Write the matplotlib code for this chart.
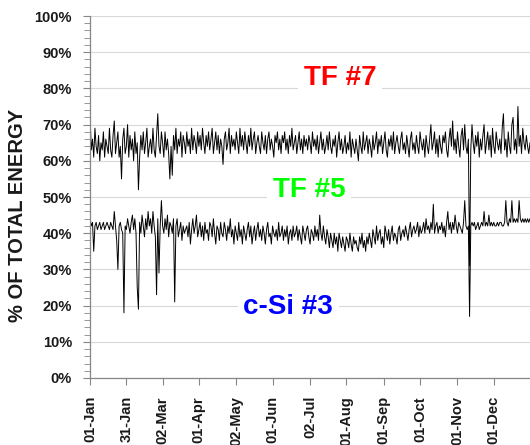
import numpy as np
import matplotlib
matplotlib.use("Agg")
import matplotlib.pyplot as plt
from matplotlib.ticker import MultipleLocator, FuncFormatter

plt.rcParams['font.family'] = ['Liberation Sans', 'DejaVu Sans']

# day of year
days = np.arange(365)

# upper band (%), one value per day
tf7 = [72, 63, 66, 61, 69, 64, 62, 67, 60, 65,
       63, 68, 61, 66, 64, 62, 69, 63, 61, 67,
       71, 62, 65, 68, 61, 64, 55, 66, 69, 62,
       64, 70, 61, 67, 63, 66, 60, 68, 62, 65,
       52, 61, 67, 63, 68, 62, 65, 69, 61, 64,
       66, 62, 69, 63, 61, 67, 73, 64, 62, 68,
       65, 61, 68, 63, 66, 62, 55, 64, 56, 67,
       63, 69, 62, 66, 64, 68, 61, 67, 65, 62,
       68, 64, 66, 62, 69, 63, 67, 65, 62, 68,
       64, 67, 63, 69, 65, 62, 67, 64, 68, 63,
       66, 69, 62, 65, 68, 63, 67, 62, 66, 64,
       59, 66, 68, 63, 65, 69, 62, 67, 64, 66,
       63, 68, 65, 62, 69, 64, 67, 63, 68, 65,
       62, 67, 64, 69, 63, 66, 68, 62, 65, 67,
       64, 62, 68, 65, 63, 67, 62, 66, 68, 63,
       66, 64, 61, 67, 65, 68, 63, 66, 62, 67,
       65, 68, 63, 66, 62, 67, 64, 69, 63, 65,
       67, 62, 65, 68, 63, 66, 62, 67, 64, 66,
       63, 67, 65, 62, 68, 64, 66, 63, 67, 62,
       65, 68, 63, 66, 62, 64, 67, 63, 68, 64,
       62, 66, 64, 67, 61, 65, 68, 63, 66, 62,
       64, 67, 62, 65, 63, 68, 61, 66, 64, 62,
       66, 63, 60, 67, 64, 62, 68, 63, 65, 67,
       62, 66, 64, 61, 67, 63, 65, 68, 62, 66,
       64, 67, 62, 65, 68, 63, 61, 66, 64, 67,
       63, 68, 62, 65, 67, 64, 62, 66, 68, 63,
       65, 62, 67, 64, 61, 66, 68, 63, 65, 62,
       67, 64, 62, 68, 65, 63, 66, 61, 67, 64,
       62, 66, 70, 63, 65, 68, 62, 66, 61, 67,
       64, 62, 67, 65, 68, 63, 61, 66, 69, 64,
       71, 63, 66, 62, 68, 64, 61, 67, 69, 63,
       70, 64, 62, 66, 31, 63, 70, 65, 62, 67,
       64, 68, 61, 66, 63, 67, 70, 62, 65, 68,
       63, 67, 61, 69, 64, 62, 68, 65, 63, 66,
       62, 69, 73, 63, 66, 61, 68, 64, 62, 70,
       72, 63, 66, 62, 75, 64, 67, 62, 69, 65,
       63, 67, 64, 62, 65]

# lower band (%)
tf5 = [44, 42, 43, 35, 42, 43, 41, 42, 43, 41,
       42, 43, 41, 42, 43, 42, 41, 43, 42, 41,
       46, 42, 38, 30, 42, 43, 41, 40, 18, 42,
       41, 44, 42, 40, 43, 45, 41, 44, 40, 25,
       19, 43, 40, 45, 42, 39, 44, 41, 46, 42,
       44, 40, 46, 42, 39, 23, 44, 29, 42, 49,
       42, 40, 44, 41, 45, 39, 43, 42, 40, 44,
       21, 42, 44, 39, 41, 43, 38, 42, 40, 41,
       42, 39, 43, 37, 41, 44, 40, 42, 45, 39,
       41, 43, 39, 42, 38, 43, 40, 41, 38, 43,
       42, 39, 44, 40, 37, 42, 41, 38, 43, 40,
       39, 43, 41, 38, 42, 40, 44, 39, 41, 37,
       42, 40, 38, 43, 39, 41, 37, 42, 40, 38,
       41, 43, 39, 42, 37, 40, 42, 38, 41, 43,
       39, 41, 38, 42, 40, 37, 41, 43, 39, 40,
       37, 42, 40, 39, 41, 38, 43, 39, 40, 42,
       38, 41, 39, 42, 37, 40, 41, 38, 42, 39,
       40, 42, 38, 41, 39, 37, 42, 40, 38, 41,
       42, 39, 37, 41, 40, 38, 42, 39, 41, 38,
       45, 40, 38, 42, 39, 37, 41, 39, 36, 40,
       38, 36, 40, 37, 39, 35, 40, 38, 36, 39,
       37, 35, 39, 38, 36, 40, 37, 35, 39, 37,
       38, 36, 35, 39, 37, 40, 36, 38, 35, 39,
       37, 40, 38, 36, 41, 39, 37, 42, 38, 40,
       41, 37, 39, 36, 42, 40, 38, 41, 37, 40,
       42, 38, 40, 39, 37, 41, 42, 38, 40, 41,
       39, 42, 40, 38, 41, 43, 39, 41, 42, 40,
       41, 43, 39, 42, 40, 41, 43, 40, 44, 41,
       42, 40, 43, 41, 48, 40, 42, 43, 40, 42,
       41, 43, 40, 42, 39, 43, 46, 41, 43, 40,
       43, 41, 45, 42, 40, 43, 42, 41, 40, 43,
       49, 42, 41, 42, 17, 42, 43, 42, 43, 41,
       42, 43, 41, 42, 43, 42, 46, 42, 43, 42,
       45, 42, 43, 42, 43, 42, 42, 43, 42, 43,
       43, 42, 42, 43, 49, 43, 42, 44, 43, 49,
       43, 44, 43, 44, 43, 49, 44, 43, 44, 43,
       44, 43, 44, 43, 44]

tick_days = [0, 30, 60, 90, 121, 151, 182, 212, 243, 273, 304, 334]
tick_labels = ['01-Jan', '31-Jan', '02-Mar', '01-Apr', '02-May', '01-Jun',
               '02-Jul', '01-Aug', '01-Sep', '01-Oct', '01-Nov', '01-Dec']

fig = plt.figure(figsize=(5.3, 4.45), dpi=100)
ax = fig.add_axes([0.170, 0.1506, 0.830, 0.8134])

ax.plot(days, tf7, color='black', lw=0.7)
ax.plot(days, tf5, color='black', lw=0.7)

ax.set_xlim(0, 364)
ax.set_ylim(0, 100)

ax.yaxis.set_major_locator(MultipleLocator(10))
ax.yaxis.set_minor_locator(MultipleLocator(2))
ax.yaxis.set_major_formatter(FuncFormatter(lambda v, p: '%d%%' % v))
ax.grid(axis='y', color='#d9d9d9', lw=0.8)
ax.set_axisbelow(True)

ax.set_xticks(tick_days)
ax.set_xticklabels(tick_labels, rotation=90)

for s in ['top', 'right']:
    ax.spines[s].set_visible(False)
for s in ['left', 'bottom']:
    ax.spines[s].set_color('#868686')
    ax.spines[s].set_linewidth(0.9)

ax.tick_params(axis='both', which='major', direction='out', length=5,
               color='#868686', labelsize=10.5, labelcolor='#1a1a1a')
ax.tick_params(axis='y', which='major', pad=8)
ax.tick_params(axis='x', which='major', pad=8)
ax.tick_params(axis='y', which='minor', direction='out', length=4, color='#868686')
for lab in ax.get_xticklabels() + ax.get_yticklabels():
    lab.set_fontweight('bold')

ax.set_ylabel('% OF TOTAL ENERGY', fontsize=14.5, fontweight='bold', color='#1a1a1a')
ax.yaxis.set_label_coords(-0.143, 0.45)

box = dict(facecolor='white', edgecolor='none', pad=4)
ax.text(207, 83, 'TF #7', color='#ff0000', fontsize=20, fontweight='bold',
        ha='center', va='center', bbox=box)
ax.text(181, 52, 'TF #5', color='#00ff00', fontsize=20, fontweight='bold',
        ha='center', va='center', bbox=box)
ax.text(164, 19.7, 'c-Si #3', color='#0000ff', fontsize=20, fontweight='bold',
        ha='center', va='center', bbox=box)

fig.savefig('out.png', dpi=100)
